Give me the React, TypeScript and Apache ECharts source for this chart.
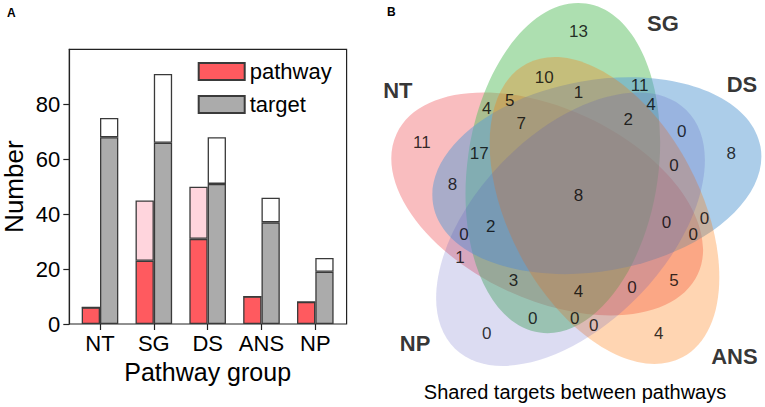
import React, { useEffect, useRef } from "react";
import * as echarts from "echarts";

// ---------- Panel A data ----------
const categories = ["NT", "SG", "DS", "ANS", "NP"];
const pathwayCore = [6, 23, 31, 10, 8];
const pathwayTotal = [6, 45, 50, 10, 8];
const targetCore = [68, 66, 51, 37, 19];
const targetTotal = [75, 91, 68, 46, 24];
const yTicks = [0, 20, 40, 60, 80];

// ---------- Panel B data (5-set Venn, region key bits = NT SG DS ANS NP) ----------
const vennSets = ["NT", "SG", "DS", "ANS", "NP"];
const vennRegions = [
  "00001", "00010", "00011", "00100", "00101", "00110", "00111", "01000",
  "01001", "01010", "01011", "01100", "01101", "01110", "01111", "10000",
  "10001", "10010", "10011", "10100", "10101", "10110", "10111", "11000",
  "11001", "11010", "11011", "11100", "11101", "11110", "11111",
];
const vennCounts = [
  0, 4, 0, 8, 0, 0, 0, 13,
  0, 10, 0, 11, 4, 1, 2, 11,
  1, 5, 0, 8, 0, 0, 0, 4,
  3, 5, 4, 17, 2, 7, 8,
];

// ---------- Venn layout (unit square coordinates) ----------
const ellipseLayout: number[][] = [
  [0.428, 0.449, 0.87, 0.5, 155],
  [0.469, 0.543, 0.87, 0.5, 82],
  [0.558, 0.523, 0.87, 0.5, 10],
  [0.578, 0.432, 0.87, 0.5, 118],
  [0.489, 0.383, 0.87, 0.5, 46],
];
const ellipseColors = [
  "rgba(241,90,96,0.4)",
  "rgba(92,192,98,0.5)",
  "rgba(90,155,212,0.5)",
  "rgba(255,117,0,0.3)",
  "rgba(82,82,190,0.2)",
];
const regionPos: Record<string, number[]> = {
  "00001": [0.27, 0.11], "00010": [0.72, 0.11], "00011": [0.55, 0.13],
  "00100": [0.91, 0.58], "00101": [0.78, 0.64], "00110": [0.84, 0.41],
  "00111": [0.76, 0.55], "01000": [0.51, 0.9], "01001": [0.39, 0.15],
  "01010": [0.42, 0.78], "01011": [0.5, 0.15], "01100": [0.67, 0.76],
  "01101": [0.7, 0.71], "01110": [0.51, 0.74], "01111": [0.64, 0.67],
  "10000": [0.1, 0.61], "10001": [0.2, 0.31], "10010": [0.76, 0.25],
  "10011": [0.65, 0.23], "10100": [0.18, 0.5], "10101": [0.21, 0.37],
  "10110": [0.81, 0.37], "10111": [0.74, 0.4], "11000": [0.27, 0.7],
  "11001": [0.34, 0.25], "11010": [0.33, 0.72], "11011": [0.51, 0.22],
  "11100": [0.25, 0.58], "11101": [0.28, 0.39], "11110": [0.36, 0.66],
  "11111": [0.51, 0.47],
};
const setNamePos = [
  [0.037, 0.745],
  [0.731, 0.921],
  [0.938, 0.762],
  [0.918, 0.05],
  [0.082, 0.084],
];

const FONT = "Liberation Sans, Arial, sans-serif";
const EDGE = "#3a3a3a";
const AXIS = "#222";

export default function App() {
  const ref = useRef<HTMLDivElement>(null);
  useEffect(() => {
    if (!ref.current) return;
    const chart = echarts.init(ref.current, null, { renderer: "svg" });
    const S = 382;
    const VX = 383.7;
    const VY = 375.5;
    const barW = 18.3;
    const band = 53.83;
    const plotTop = 49.3;
    const plotH = 274.7;
    const barsLeft = 100 - band / 2;
    const extras = (tot: number[], core: number[]) => tot.map((t, i) => t - core[i]);
    const barCommon = {
      type: "bar", barWidth: barW, barGap: "0%",
      xAxisIndex: 1, yAxisIndex: 1, silent: true,
    };

    const option: any = {
      animation: false,
      textStyle: { fontFamily: FONT },
      grid: [
        {
          left: 69.3, top: plotTop, width: 277.3, height: plotH,
          show: true, borderColor: AXIS, borderWidth: 1.2,
          backgroundColor: "transparent", outerBoundsMode: "none", containLabel: false,
        },
        {
          left: barsLeft, top: plotTop, width: band * 5, height: plotH, show: false,
          outerBoundsMode: "none", containLabel: false,
        },
        {
          left: VX, top: VY - S, width: S, height: S, show: false,
          outerBoundsMode: "none", containLabel: false,
        },
      ],
      xAxis: [
        { type: "value", gridIndex: 0, min: 0, max: 1, show: false },
        {
          type: "category", gridIndex: 1, data: categories,
          axisLine: { show: false },
          axisTick: { show: true, interval: 0, alignWithLabel: true, length: 6, lineStyle: { color: AXIS, width: 1.2 } },
          axisLabel: { interval: 0, hideOverlap: false, fontSize: 22, color: "#000", margin: 8 },
          name: "Pathway group", nameLocation: "middle", nameGap: 35,
          nameTextStyle: { fontSize: 25, color: "#000" },
        },
        { type: "value", gridIndex: 2, min: 0, max: 1, show: false },
      ],
      yAxis: [
        {
          type: "value", gridIndex: 0, min: 0, max: 100,
          splitLine: { show: false },
          axisLine: { show: true, onZero: false, lineStyle: { color: AXIS, width: 1.2 } },
          axisTick: { show: true, customValues: yTicks, length: 6, lineStyle: { color: AXIS, width: 1.2 } },
          axisLabel: { customValues: yTicks, fontSize: 22, color: "#000", margin: 9 },
          name: "Number", nameLocation: "middle", nameGap: 42, nameMoveOverlap: false,
          nameTextStyle: { fontSize: 26, color: "#000" },
        },
        { type: "value", gridIndex: 1, min: 0, max: 100, show: false },
        { type: "value", gridIndex: 2, min: 0, max: 1, show: false },
      ],
      legend: {
        data: ["pathway", "target"],
        orient: "vertical", left: 192.7, top: 55.5,
        itemWidth: 46, itemHeight: 17, itemGap: 11,
        icon: "rect",
        textStyle: { fontSize: 22, color: "#000" },
        selectedMode: false,
      },
      series: [
        {
          ...barCommon, name: "pathway", stack: "p",
          data: pathwayCore,
          itemStyle: { color: "#ff5a5f", borderColor: EDGE, borderWidth: 1.3 },
        },
        {
          ...barCommon, name: "pathway (all)", stack: "p",
          data: extras(pathwayTotal, pathwayCore),
          itemStyle: { color: "#ffd5dd", borderColor: EDGE, borderWidth: 1.3 },
        },
        {
          ...barCommon, name: "target", stack: "t",
          data: targetCore,
          itemStyle: { color: "#ababab", borderColor: EDGE, borderWidth: 1.3 },
        },
        {
          ...barCommon, name: "target (all)", stack: "t",
          data: extras(targetTotal, targetCore),
          itemStyle: { color: "#ffffff", borderColor: EDGE, borderWidth: 1.3 },
        },
        {
          name: "venn sets", type: "custom", xAxisIndex: 2, yAxisIndex: 2,
          data: ellipseLayout,
          silent: true, clip: false,
          renderItem: (params: any, api: any) => {
            const c = api.coord([api.value(0), api.value(1)]);
            const sz = api.size([api.value(2), api.value(3)]);
            return {
              type: "ellipse",
              x: c[0], y: c[1],
              rotation: (api.value(4) * Math.PI) / 180,
              shape: { cx: 0, cy: 0, rx: sz[0] / 2, ry: sz[1] / 2 },
              style: { fill: ellipseColors[params.dataIndex] },
            };
          },
        },
        {
          name: "venn counts", type: "scatter", xAxisIndex: 2, yAxisIndex: 2,
          symbolSize: 0, silent: true, z: 5,
          data: vennRegions.map((r, i) => ({ value: regionPos[r], name: String(vennCounts[i]) })),
          label: {
            show: true, position: "inside", formatter: "{b}",
            fontSize: 17, color: "#000", fontFamily: FONT,
          },
        },
        {
          name: "venn names", type: "scatter", xAxisIndex: 2, yAxisIndex: 2,
          symbolSize: 0, silent: true, z: 5,
          data: vennSets.map((s, i) => ({ value: setNamePos[i], name: s })),
          label: {
            show: true, position: "inside", formatter: "{b}",
            fontSize: 22, fontWeight: "bold", color: "#000", fontFamily: FONT,
          },
        },
      ],
      graphic: [
        { type: "text", x: 7, y: 12.5, style: { text: "A", fontSize: 12, fontWeight: "bold", fill: "#000", verticalAlign: "middle", fontFamily: FONT } },
        { type: "text", x: 387, y: 12, style: { text: "B", fontSize: 12, fontWeight: "bold", fill: "#000", verticalAlign: "middle", fontFamily: FONT } },
        { type: "text", x: 575, y: 392, style: { text: "Shared targets between pathways", fontSize: 20, fill: "#000", align: "center", verticalAlign: "middle", fontFamily: FONT } },
      ],
    };
    chart.setOption(option);
    return () => chart.dispose();
  }, []);
  return (
    <div
      ref={ref}
      style={{ position: "fixed", left: 0, top: 0, width: 765, height: 407, background: "#fff" }}
    />
  );
}
